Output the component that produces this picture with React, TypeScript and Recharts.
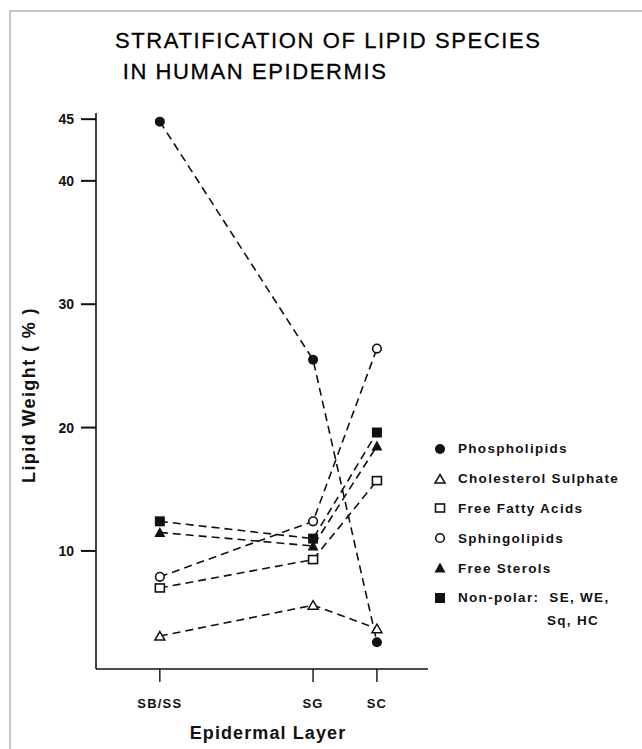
import { LineChart, Line, XAxis, YAxis, Legend } from 'recharts'

const LAYERS = ['SB/SS', 'SG', 'SC']
const LAYER_POS = [1, 3.4, 4.4]
const PHOSPHOLIPIDS = [44.8, 25.5, 2.6]
const CHOL_SULPHATE = [3.1, 5.6, 3.7]
const FREE_FATTY_ACIDS = [7.0, 9.3, 15.7]
const SPHINGOLIPIDS = [7.9, 12.4, 26.4]
const FREE_STEROLS = [11.5, 10.4, 18.5]
const NON_POLAR = [12.4, 11.0, 19.6]
const Y_TICKS = [10, 20, 30, 40, 45]

const FONT = '"Liberation Sans", Arial, Helvetica, sans-serif'
const INK = '#111'

type Shape = 'filledCircle' | 'openTriangle' | 'openSquare' | 'openCircle' | 'filledTriangle' | 'filledSquare'

function Marker({ shape, cx, cy }: { shape: Shape; cx: number; cy: number }) {
  switch (shape) {
    case 'filledCircle':
      return <circle cx={cx} cy={cy} r={5} fill={INK} />
    case 'openCircle':
      return <circle cx={cx} cy={cy} r={4.3} fill="#fff" stroke={INK} strokeWidth={1.6} />
    case 'filledSquare':
      return <rect x={cx - 5} y={cy - 5} width={10} height={10} fill={INK} />
    case 'openSquare':
      return <rect x={cx - 4.5} y={cy - 4} width={9} height={8} fill="#fff" stroke={INK} strokeWidth={1.6} />
    case 'filledTriangle':
      return <polygon points={`${cx},${cy - 5.5} ${cx + 5.5},${cy + 4.5} ${cx - 5.5},${cy + 4.5}`} fill={INK} />
    case 'openTriangle':
      return (
        <polygon
          points={`${cx},${cy - 4.5} ${cx + 5},${cy + 4} ${cx - 5},${cy + 4}`}
          fill="#fff"
          stroke={INK}
          strokeWidth={1.5}
        />
      )
  }
}

const SERIES: { key: string; name: string; values: number[]; shape: Shape }[] = [
  { key: 'phospho', name: 'Phospholipids', values: PHOSPHOLIPIDS, shape: 'filledCircle' },
  { key: 'cholSulph', name: 'Cholesterol Sulphate', values: CHOL_SULPHATE, shape: 'openTriangle' },
  { key: 'ffa', name: 'Free Fatty Acids', values: FREE_FATTY_ACIDS, shape: 'openSquare' },
  { key: 'sphingo', name: 'Sphingolipids', values: SPHINGOLIPIDS, shape: 'openCircle' },
  { key: 'sterols', name: 'Free Sterols', values: FREE_STEROLS, shape: 'filledTriangle' },
  { key: 'nonPolar', name: 'Non-polar:  SE, WE,', values: NON_POLAR, shape: 'filledSquare' },
]

const data = LAYER_POS.map((x, i) => {
  const row: Record<string, number | string> = { x, layer: LAYERS[i] }
  SERIES.forEach((s) => {
    row[s.key] = s.values[i]
  })
  return row
})

function XTick(props: any) {
  const { x, y, payload } = props
  const label = LAYERS[LAYER_POS.indexOf(payload.value)]
  return (
    <text x={x} y={y + 22} textAnchor="middle" fontFamily={FONT} fontSize={13} fontWeight={700} fill={INK} letterSpacing={1.2}>
      {label}
    </text>
  )
}

function YTick(props: any) {
  const { x, y, payload } = props
  return (
    <text x={x} y={y + 5} textAnchor="end" fontFamily={FONT} fontSize={14} fontWeight={700} fill={INK}>
      {payload.value}
    </text>
  )
}

function LegendBox() {
  return (
    <div style={{ fontFamily: FONT, fontSize: 13.5, fontWeight: 700, color: INK, letterSpacing: 1.3 }}>
      {SERIES.map((s) => (
        <div key={s.key} style={{ display: 'flex', alignItems: 'center', height: 29.8 }}>
          <svg width={20} height={14} style={{ marginRight: 10 }}>
            <Marker shape={s.shape} cx={12} cy={7} />
          </svg>
          <span style={{ whiteSpace: 'pre' }}>{s.name}</span>
        </div>
      ))}
      <div style={{ paddingLeft: 119, marginTop: 0 }}>Sq, HC</div>
    </div>
  )
}

export default function App() {
  return (
    <div style={{ position: 'absolute', left: 0, top: 0, width: 642, height: 749, background: '#fff' }}>
      <div
        style={{
          position: 'absolute',
          left: 9,
          top: 10,
          right: 0,
          bottom: 0,
          borderTop: '2px solid #c6c6c6',
          borderLeft: '2px solid #c6c6c6',
        }}
      />
      <div
        style={{
          position: 'absolute',
          left: 115,
          top: 25,
          fontFamily: FONT,
          fontSize: 22,
          lineHeight: '31px',
          color: '#000',
          letterSpacing: 1.6,
          whiteSpace: 'pre',
          WebkitTextStroke: '0.3px #000',
        }}
      >
        {'STRATIFICATION OF LIPID SPECIES\n IN HUMAN EPIDERMIS'}
      </div>
      <div style={{ position: 'absolute', left: 0, top: 0 }}>
        <LineChart width={642} height={749} data={data} margin={{ top: 113, right: 214, bottom: 0, left: 0 }}>
          <XAxis
            type="number"
            dataKey="x"
            domain={[0, 5.2]}
            ticks={LAYER_POS}
            height={80}
            tickSize={13}
            tickMargin={4}
            axisLine={{ stroke: INK, strokeWidth: 1.6 }}
            tickLine={{ stroke: INK, strokeWidth: 1.4 }}
            tick={<XTick />}
            label={{
              content: (p: any) => (
                <text
                  x={p.viewBox.x + p.viewBox.width / 2 + 6}
                  y={p.viewBox.y + 70}
                  textAnchor="middle"
                  fontFamily={FONT}
                  fontSize={18}
                  fontWeight={700}
                  fill={INK}
                  letterSpacing={1.1}
                >
                  Epidermal Layer
                </text>
              ),
            }}
          />
          <YAxis
            type="number"
            domain={[0.43, 45.5]}
            ticks={Y_TICKS}
            allowDataOverflow
            width={96}
            tickSize={15}
            tickMargin={7}
            axisLine={{ stroke: INK, strokeWidth: 1.6 }}
            tickLine={{ stroke: INK, strokeWidth: 2 }}
            tick={<YTick />}
            label={{
              content: (p: any) => {
                const cx = p.viewBox.x + 29
                const cy = p.viewBox.y + p.viewBox.height / 2 + 4
                return (
                  <text
                    x={cx}
                    y={cy}
                    transform={`rotate(-90 ${cx} ${cy})`}
                    textAnchor="middle"
                    dominantBaseline="central"
                    fontFamily={FONT}
                    fontSize={18}
                    fontWeight={700}
                    fill={INK}
                    letterSpacing={1.4}
                  >
                    Lipid Weight ( % )
                  </text>
                )
              },
            }}
          />
          <Legend
            layout="vertical"
            align="center"
            verticalAlign="middle"
            wrapperStyle={{ left: 428, top: 434, width: 214 }}
            content={() => <LegendBox />}
          />
          {SERIES.map((s) => (
            <Line
              key={s.key}
              type="linear"
              dataKey={s.key}
              name={s.name}
              stroke={INK}
              strokeWidth={1.6}
              strokeDasharray="8 5"
              dot={(p: any) => <Marker key={`${s.key}-${p.index}`} shape={s.shape} cx={p.cx} cy={p.cy} />}
              activeDot={false}
              isAnimationActive={false}
            />
          ))}
        </LineChart>
      </div>
    </div>
  )
}
